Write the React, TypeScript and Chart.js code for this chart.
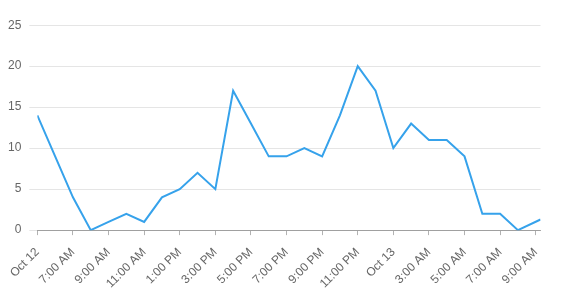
import React, { useEffect, useRef } from "react";
import { Chart, registerables } from "chart.js";

Chart.register(...registerables);

// hours since Oct 12, 5:00 AM
const hours = [0, 1, 2, 3, 4, 5, 6, 7, 8, 9, 10, 11, 12, 13, 14, 15, 16, 17, 18, 19, 20, 21, 22, 23, 24, 25, 26, 27, 28.27];
const values = [14, 9, 4, 0, 1, 2, 1, 4, 5, 7, 5, 17, 13, 9, 9, 10, 9, 14, 20, 17, 10, 13, 11, 11, 9, 2, 2, 0, 1.3];
const tickHours = [0, 2, 4, 6, 8, 10, 12, 14, 16, 18, 20, 22, 24, 26, 28];
const tickLabels = [
  "Oct 12", "7:00 AM", "9:00 AM", "11:00 AM", "1:00 PM", "3:00 PM", "5:00 PM",
  "7:00 PM", "9:00 PM", "11:00 PM", "Oct 13", "3:00 AM", "5:00 AM", "7:00 AM", "9:00 AM",
];

export default function App() {
  const ref = useRef<HTMLCanvasElement | null>(null);
  useEffect(() => {
    if (!ref.current) return;
    const font = { family: "'Liberation Sans', Arial, sans-serif", size: 12 };
    const chart = new Chart(ref.current, {
      type: "line",
      data: {
        datasets: [
          {
            data: hours.map((h, i) => ({ x: h, y: values[i] })),
            borderColor: "rgb(54,162,235)",
            backgroundColor: "rgb(54,162,235)",
            borderWidth: 2,
            pointRadius: 0,
            tension: 0,
            fill: false,
          },
        ],
      },
      options: {
        animation: false,
        responsive: true,
        maintainAspectRatio: false,
        layout: { padding: { top: 10, right: 10, left: 0, bottom: 0 } },
        plugins: { legend: { display: false }, tooltip: { enabled: false } },
        scales: {
          x: {
            type: "linear",
            min: 0,
            max: hours[hours.length - 1],
            afterBuildTicks: (axis: any) => {
              axis.ticks = tickHours.map((v) => ({ value: v }));
            },
            ticks: {
              autoSkip: false,
              maxRotation: 45,
              minRotation: 45,
              padding: 10,
              color: "#666",
              font,
              callback: (v: any) => {
                const i = tickHours.indexOf(Number(v));
                return i >= 0 ? tickLabels[i] : "";
              },
            },
            grid: { drawOnChartArea: false, drawTicks: true, tickLength: 5, color: "rgba(0,0,0,0.3)" },
            border: { color: "rgba(0,0,0,0.3)" },
          },
          y: {
            min: 0,
            max: 25,
            ticks: { stepSize: 5, color: "#666", font, padding: 8 },
            grid: { color: "rgba(0,0,0,0.1)", tickLength: 8 },
            border: { display: false },
          },
        },
      },
    });
    return () => chart.destroy();
  }, []);
  return (
    <div style={{ width: 556, height: 291, position: "fixed", left: 0, top: 10 }}>
      <canvas ref={ref} />
    </div>
  );
}
